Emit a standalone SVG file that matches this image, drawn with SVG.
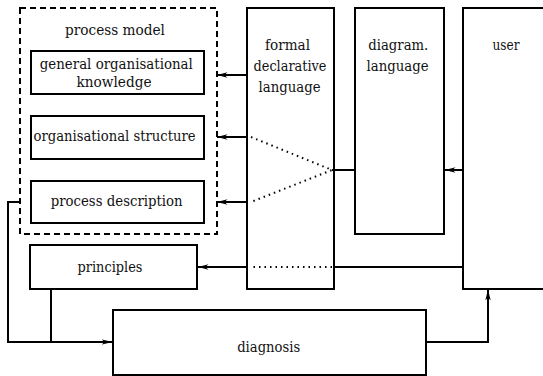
<svg xmlns="http://www.w3.org/2000/svg" width="543" height="376" viewBox="0 0 543 376">
  <style>
    .box { fill: #fff; stroke: #000; stroke-width: 2; }
    .lbl { font-family: "DejaVu Serif", serif; font-size: 15px; fill: #111; text-anchor: middle; }
    .wire { fill: none; stroke: #000; stroke-width: 2; }
    .dot { fill: none; stroke: #000; stroke-width: 2; stroke-dasharray: 1.5 4; }
  </style>
  <defs>
    <marker id="arr" viewBox="0 0 11 7" refX="10.5" refY="3.5" markerWidth="11" markerHeight="7" markerUnits="userSpaceOnUse" orient="auto">
      <path d="M0,0.8 L11,3.5 L0,6.2 L3,3.5 Z" fill="#000"/>
    </marker>
  </defs>

  <rect x="0" y="0" width="543" height="376" fill="#fff"/>

  <!-- process model container -->
  <g id="process-model">
    <rect x="20" y="8" width="197" height="226" fill="none" stroke="#000" stroke-width="2" stroke-dasharray="6 4"/>
    <text class="lbl" x="115" y="35" textLength="100" lengthAdjust="spacingAndGlyphs">process model</text>
  </g>
  <g id="general-knowledge">
    <rect class="box" x="31" y="51" width="173" height="43"/>
    <text class="lbl" x="116.3" y="69" textLength="153" lengthAdjust="spacingAndGlyphs">general organisational</text>
    <text class="lbl" x="114" y="87" textLength="75" lengthAdjust="spacingAndGlyphs">knowledge</text>
  </g>
  <g id="org-structure">
    <rect class="box" x="31" y="116" width="173" height="43"/>
    <text class="lbl" x="114.5" y="141" textLength="162" lengthAdjust="spacingAndGlyphs">organisational structure</text>
  </g>
  <g id="process-description">
    <rect class="box" x="31" y="181" width="173" height="42"/>
    <text class="lbl" x="116.7" y="206" textLength="132" lengthAdjust="spacingAndGlyphs">process description</text>
  </g>
  <g id="principles">
    <rect class="box" x="30" y="245" width="167" height="44"/>
    <text class="lbl" x="110" y="272" textLength="65" lengthAdjust="spacingAndGlyphs">principles</text>
  </g>
  <g id="formal-language">
    <rect class="box" x="247" y="8" width="87" height="281"/>
    <text class="lbl" x="287.5" y="50" textLength="45" lengthAdjust="spacingAndGlyphs">formal</text>
    <text class="lbl" x="290" y="71" textLength="73" lengthAdjust="spacingAndGlyphs">declarative</text>
    <text class="lbl" x="289.5" y="92" textLength="62" lengthAdjust="spacingAndGlyphs">language</text>
  </g>
  <g id="diagram-language">
    <rect class="box" x="355" y="8" width="89" height="226"/>
    <text class="lbl" x="398.3" y="50" textLength="60" lengthAdjust="spacingAndGlyphs">diagram.</text>
    <text class="lbl" x="397.5" y="71" textLength="62" lengthAdjust="spacingAndGlyphs">language</text>
  </g>
  <g id="user">
    <rect class="box" x="463" y="8" width="90" height="281"/>
    <text class="lbl" x="506" y="50" textLength="27" lengthAdjust="spacingAndGlyphs">user</text>
  </g>
  <g id="diagnosis">
    <rect class="box" x="113" y="310" width="313" height="65"/>
    <text class="lbl" x="268.7" y="352" textLength="63" lengthAdjust="spacingAndGlyphs">diagnosis</text>
  </g>

  <g id="connectors">
    <!-- formal language feeds the process model parts -->
    <line class="wire" x1="247" y1="75" x2="217" y2="75" marker-end="url(#arr)"/>
    <line class="wire" x1="247" y1="137" x2="217" y2="137" marker-end="url(#arr)"/>
    <line class="wire" x1="247" y1="202" x2="217" y2="202" marker-end="url(#arr)"/>
    <!-- diagram language routed through formal language -->
    <line class="wire" x1="355" y1="170" x2="332" y2="170"/>
    <polyline class="dot" points="251,137 332,170 251,202"/>
    <!-- user to diagram language -->
    <line class="wire" x1="463" y1="170" x2="445" y2="170" marker-end="url(#arr)"/>
    <!-- user to principles -->
    <line class="wire" x1="463" y1="267" x2="334" y2="267"/>
    <line class="dot" x1="332" y1="267" x2="250" y2="267"/>
    <line class="wire" x1="247" y1="267" x2="198" y2="267" marker-end="url(#arr)"/>
    <!-- process model and principles into diagnosis -->
    <polyline class="wire" points="20,202 8,202 8,342 112,342" marker-end="url(#arr)"/>
    <line class="wire" x1="51" y1="289" x2="51" y2="342"/>
    <!-- diagnosis back to user -->
    <polyline class="wire" points="426,342 488,342 488,290" marker-end="url(#arr)"/>
  </g>
</svg>
